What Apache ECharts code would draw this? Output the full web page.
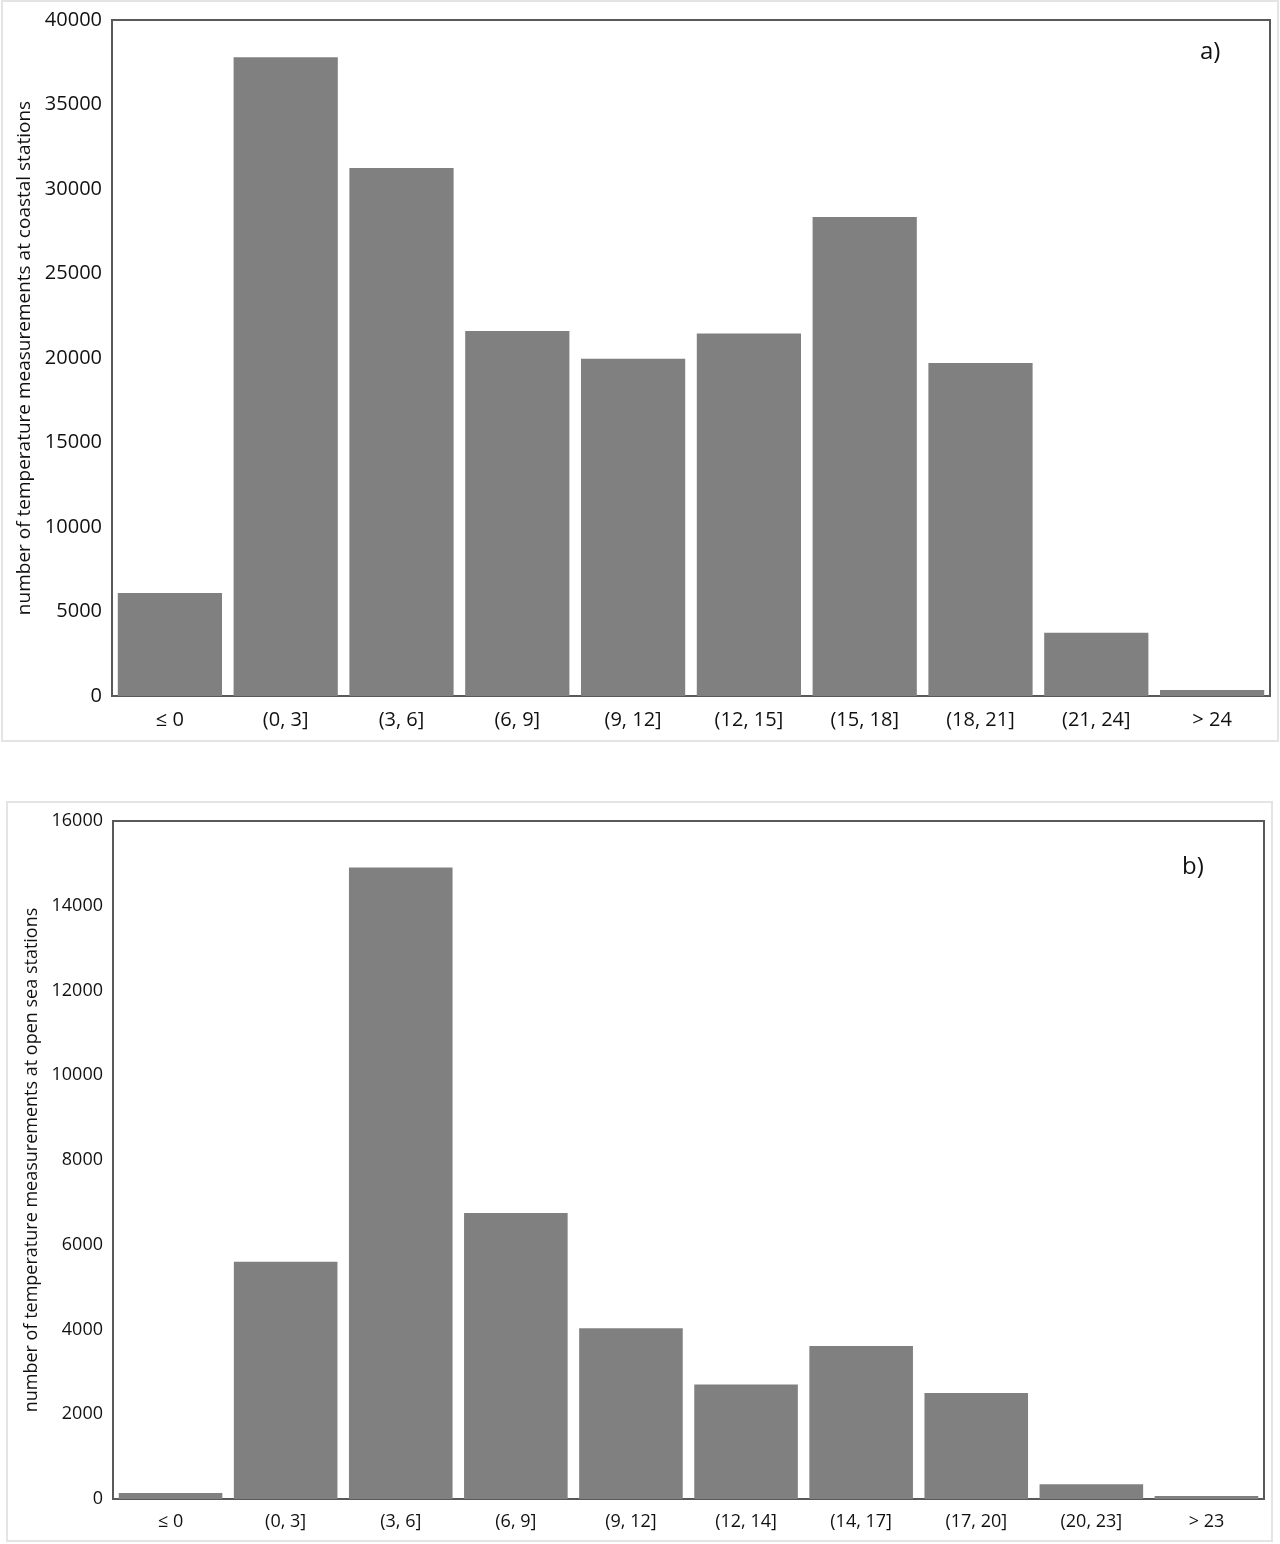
<!DOCTYPE html>
<html><head><meta charset="utf-8">
<script src="https://cdn.jsdelivr.net/npm/echarts@6/dist/echarts.min.js"></script>
<style>html,body{margin:0;padding:0;background:#fff}#c{width:1280px;height:1544px}</style>
</head><body><div id="c"></div>
<script>
const catsA = ['≤ 0','(0, 3]','(3, 6]','(6, 9]','(9, 12]','(12, 15]','(15, 18]','(18, 21]','(21, 24]','> 24'];
const valsA = [6100, 37800, 31250, 21600, 19950, 21450, 28350, 19700, 3750, 350];
const ticksA = {min: 0, max: 40000, interval: 5000};
const catsB = ['≤ 0','(0, 3]','(3, 6]','(6, 9]','(9, 12]','(12, 14]','(14, 17]','(17, 20]','(20, 23]','> 23'];
const valsB = [140, 5600, 14900, 6750, 4030, 2700, 3610, 2500, 350, 70];
const ticksB = {min: 0, max: 16000, interval: 2000};
const yNameA = 'number of temperature measurements at coastal stations';
const yNameB = 'number of temperature measurements at open sea stations';

const font = "'Open Sans', 'Noto Sans', sans-serif";
const chart = echarts.init(document.getElementById('c'));
const xAx = (cats, gi, fs) => ({
  type: 'category', data: cats, gridIndex: gi,
  axisLine: {show: true, lineStyle: {color: '#595959', width: 2}},
  axisTick: {show: false},
  axisLabel: {color: '#111', fontSize: fs, fontFamily: font, margin: 14}
});
const yAx = (t, gi, name, fs, nfs, gap) => ({
  type: 'value', gridIndex: gi, min: t.min, max: t.max, interval: t.interval,
  name: name, nameLocation: 'middle', nameGap: gap,
  nameTextStyle: {color: '#111', fontSize: nfs, fontFamily: font},
  axisLine: {show: true, lineStyle: {color: '#595959', width: 2}},
  axisTick: {show: false}, splitLine: {show: false},
  axisLabel: {color: '#111', fontSize: fs, fontFamily: font, margin: 10, formatter: v => String(v)}
});
chart.setOption({
  animation: false,
  graphic: [
    {type: 'rect', shape: {x: 2, y: 1, width: 1276, height: 740}, style: {fill: 'none', stroke: '#e4e4e4', lineWidth: 2}},
    {type: 'rect', shape: {x: 7, y: 802, width: 1265, height: 739}, style: {fill: 'none', stroke: '#e4e4e4', lineWidth: 2}},
    {type: 'text', x: 1200, y: 40, style: {text: 'a)', fontSize: 24, fontFamily: font, fill: '#111'}},
    {type: 'text', x: 1182, y: 855, style: {text: 'b)', fontSize: 24, fontFamily: font, fill: '#111'}}
  ],
  grid: [
    {left: 112, top: 20, width: 1158, height: 676, show: true, borderColor: '#595959', borderWidth: 2, containLabel: false, outerBoundsMode: 'none'},
    {left: 113, top: 821, width: 1151, height: 678, show: true, borderColor: '#595959', borderWidth: 2, containLabel: false, outerBoundsMode: 'none'}
  ],
  xAxis: [xAx(catsA, 0, 20), xAx(catsB, 1, 18)],
  yAxis: [yAx(ticksA, 0, yNameA, 20, 19, 78), yAx(ticksB, 1, yNameB, 18, 18, 72)],
  series: [
    {type: 'bar', xAxisIndex: 0, yAxisIndex: 0, data: valsA, barCategoryGap: '10%', itemStyle: {color: '#808080'}},
    {type: 'bar', xAxisIndex: 1, yAxisIndex: 1, data: valsB, barCategoryGap: '10%', itemStyle: {color: '#808080'}}
  ]
});
</script></body></html>
